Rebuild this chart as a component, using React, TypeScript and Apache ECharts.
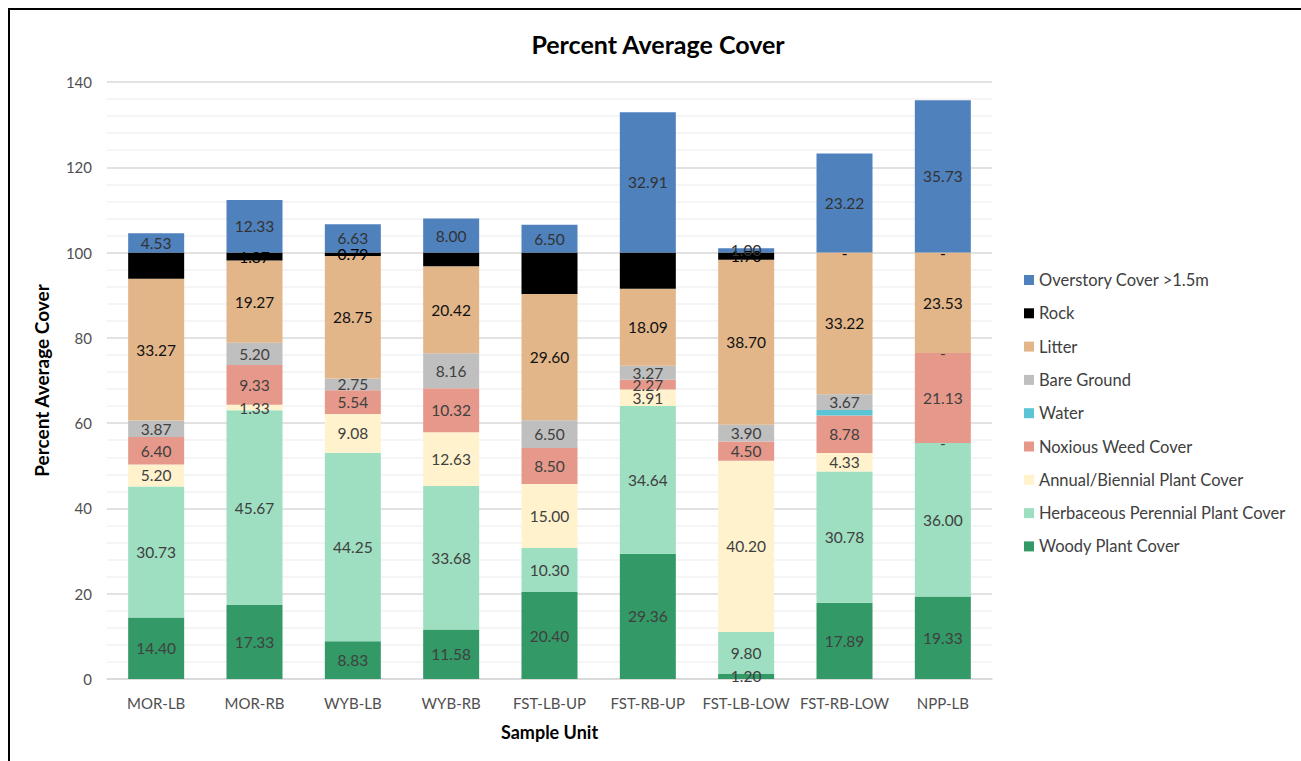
import React, { useEffect, useRef } from "react";
import * as echarts from "echarts";

const categories = ["MOR-LB", "MOR-RB", "WYB-LB", "WYB-RB", "FST-LB-UP", "FST-RB-UP", "FST-LB-LOW", "FST-RB-LOW", "NPP-LB"];

const woody = [14.4, 17.33, 8.83, 11.58, 20.4, 29.36, 1.2, 17.89, 19.33];
const herbaceous = [30.73, 45.67, 44.25, 33.68, 10.3, 34.64, 9.8, 30.78, 36.0];
const annual = [5.2, 1.33, 9.08, 12.63, 15.0, 3.91, 40.2, 4.33, 0];
const noxious = [6.4, 9.33, 5.54, 10.32, 8.5, 2.27, 4.5, 8.78, 21.13];
const water = [0, 0, 0, 0, 0, 0, 0, 1.33, 0];
const bare = [3.87, 5.2, 2.75, 8.16, 6.5, 3.27, 3.9, 3.67, 0];
const litter = [33.27, 19.27, 28.75, 20.42, 29.6, 18.09, 38.7, 33.22, 23.53];
const rock = [6.13, 1.87, 0.79, 3.21, 9.7, 8.46, 1.7, 0, 0];
const overstory = [4.53, 12.33, 6.63, 8.0, 6.5, 32.91, 1.0, 23.22, 35.73];

const yTicks = [0, 20, 40, 60, 80, 100, 120, 140];

const FONT = "Lato, 'Open Sans', sans-serif";

export default function App() {
  const ref = useRef<HTMLDivElement>(null);
  useEffect(() => {
    if (!ref.current) return;
    const chart = echarts.init(ref.current, undefined, { renderer: "svg" });
    const mk = (name: string, data: number[], color: string, labelColor: string, showLabel = true) => ({
      name,
      type: "bar",
      stack: "total",
      barWidth: 56,
      data,
      itemStyle: { color },
      label: {
        show: showLabel,
        position: "inside",
        fontFamily: FONT,
        fontSize: 15.5,
        color: labelColor,
        formatter: (p: any) => (p.value === 0 ? "-" : Number(p.value).toFixed(2)),
      },
      emphasis: { disabled: true },
    });
    const series = [
      mk("Woody Plant Cover", woody, "#339966", "#404040"),
      mk("Herbaceous Perennial Plant Cover", herbaceous, "#9DDFC0", "#404040"),
      mk("Annual/Biennial Plant Cover", annual, "#FFF2CC", "#404040"),
      mk("Noxious Weed Cover", noxious, "#E6998A", "#404040"),
      mk("Water", water, "#5BC5D5", "#404040", false),
      mk("Bare Ground", bare, "#BFBFBF", "#404040"),
      mk("Litter", litter, "#E2B689", "#111111"),
      mk("Rock", rock, "#000000", "#000000"),
      mk("Overstory Cover >1.5m", overstory, "#4F81BD", "#333333"),
    ];
    chart.setOption({
      animation: false,
      backgroundColor: "#ffffff",
      textStyle: { fontFamily: FONT },
      title: {
        text: "Percent Average Cover",
        left: 653,
        textAlign: "center",
        top: 26,
        textStyle: { fontFamily: FONT, fontSize: 25, fontWeight: "bold", color: "#000" },
      },
      legend: {
        orient: "vertical",
        left: 1024,
        top: 270,
        padding: 0,
        itemWidth: 10,
        itemHeight: 10,
        itemGap: 13.3,
        icon: "rect",
        selectedMode: false,
        data: series.map((s) => s.name).reverse(),
        textStyle: { fontFamily: FONT, fontSize: 16.5, color: "#404040", lineHeight: 20 },
      },
      grid: { left: 107, right: 309, top: 82, bottom: 82 },
      xAxis: {
        type: "category",
        data: categories,
        name: "Sample Unit",
        nameLocation: "middle",
        nameGap: 44,
        nameTextStyle: { fontFamily: FONT, fontSize: 18, fontWeight: "bold", color: "#000" },
        axisLine: { lineStyle: { color: "#D9D9D9", width: 1.5 } },
        axisTick: { show: false },
        axisLabel: { interval: 0, fontFamily: FONT, fontSize: 15, color: "#505050", margin: 16 },
      },
      yAxis: {
        type: "value",
        min: 0,
        max: 140,
        interval: 20,
        name: "Percent Average Cover",
        nameLocation: "middle",
        nameGap: 56,
        nameTextStyle: { fontFamily: FONT, fontSize: 19, fontWeight: "bold", color: "#000" },
        axisLine: { show: false },
        axisTick: { show: false },
        axisLabel: {
          fontFamily: FONT,
          fontSize: 15,
          color: "#505050",
          margin: 15,
          formatter: (v: number) => (yTicks.includes(v) ? String(v) : ""),
        },
        splitLine: { lineStyle: { color: "#D9D9D9", width: 1.5 } },
        minorTick: { show: false, splitNumber: 5 },
        minorSplitLine: { show: true, lineStyle: { color: "#F2F2F2", width: 1.5 } },
      },
      graphic: [
        { type: "rect", shape: { x: 8, y: 8, width: 2, height: 761 }, style: { fill: "#000" }, silent: true },
        { type: "rect", shape: { x: 8, y: 8, width: 1293, height: 2 }, style: { fill: "#000" }, silent: true },
      ],
      series,
    });
    return () => chart.dispose();
  }, []);
  return (
    <div
      ref={ref}
      style={{ position: "absolute", left: 0, top: 0, width: 1301, height: 761 }}
    />
  );
}
